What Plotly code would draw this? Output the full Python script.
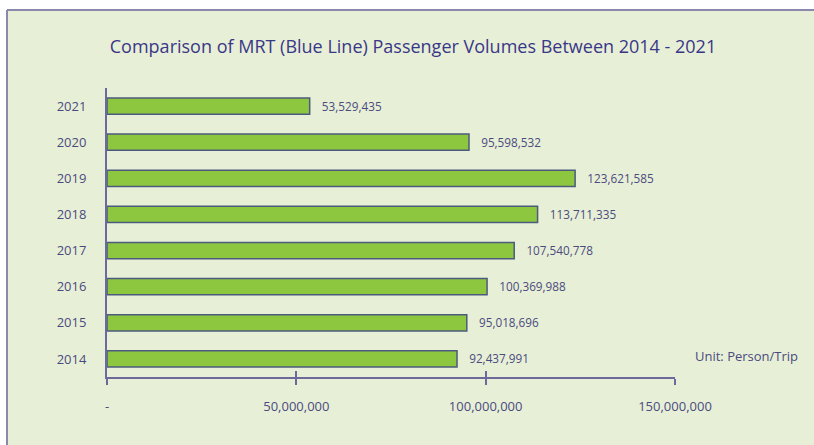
import plotly.graph_objects as go

years = ["2014", "2015", "2016", "2017", "2018", "2019", "2020", "2021"]
volumes = [92437991, 95018696, 100369988, 107540778, 113711335, 123621585, 95598532, 53529435]
x_tick_vals = [0, 50000000, 100000000, 150000000]
x_tick_text = ["-", "50,000,000", "100,000,000", "150,000,000"]

title_text = "Comparison of MRT (Blue Line) Passenger Volumes Between 2014 - 2021"
unit_text = "Unit: Person/Trip"

FONT = "Open Sans"
TXT = "#4b4a80"
AXIS = "#6c6a9c"
BG = "#e7f0d7"
FRAME = "#8b88ad"

fig = go.Figure()
fig.add_trace(go.Bar(
    y=years, x=volumes, orientation="h",
    marker=dict(color="#8dc63f", line=dict(color="#4d5a7e", width=1.5)),
    width=0.45,
    texttemplate="   %{x:,}",
    textposition="outside",
    textfont=dict(family=FONT, size=13, color=TXT),
    cliponaxis=False,
    hoverinfo="skip",
))
# overlay axis for tick marks that cross the axis line
fig.add_trace(go.Scatter(x=[0, 150000000], y=[None, None], xaxis="x2", yaxis="y",
                         mode="lines", showlegend=False, hoverinfo="skip"))

W, H = 814, 445
L, R, T, B = 107, 814 - 675, 88, 445 - 377
pw, ph = W - L - R, H - T - B

def px(xp):
    return (xp - L) / pw

def py(yp):
    return (H - B - yp) / ph

frame_shapes = [
    dict(type="rect", xref="paper", yref="paper", layer="below", x0=px(-20), x1=px(7),
         y0=py(500), y1=py(-20), line=dict(width=0), fillcolor="white"),
    dict(type="rect", xref="paper", yref="paper", layer="below", x0=px(-20), x1=px(900),
         y0=py(10), y1=py(-20), line=dict(width=0), fillcolor="white"),
    dict(type="line", xref="paper", yref="paper", layer="below", x0=px(7), x1=px(900),
         y0=py(10), y1=py(10), line=dict(color=FRAME, width=2)),
    dict(type="line", xref="paper", yref="paper", layer="below", x0=px(7), x1=px(7),
         y0=py(10), y1=py(500), line=dict(color=FRAME, width=2)),
]

fig.update_layout(
    width=W, height=H,
    margin=dict(l=L, r=R, t=T, b=B, pad=0),
    paper_bgcolor=BG,
    plot_bgcolor="rgba(0,0,0,0)",
    showlegend=False,
    font=dict(family=FONT, color=TXT),
    title=dict(text=title_text, xref="container", yref="container",
               x=413 / W, xanchor="center", y=1 - 47 / H, yanchor="middle",
               font=dict(family=FONT, size=18, color="#3a3788")),
    xaxis=dict(range=[0, 150000000], tickvals=x_tick_vals, ticktext=x_tick_text,
               showgrid=False, zeroline=False, showline=True, linecolor=AXIS, linewidth=2,
               ticks="outside", ticklen=6, tickwidth=1.5, tickcolor=AXIS,
               tickfont=dict(family=FONT, size=13, color=TXT), ticklabelstandoff=10),
    xaxis2=dict(range=[0, 150000000], overlaying="x", side="bottom", anchor="y",
                tickvals=x_tick_vals, showticklabels=False, showgrid=False, zeroline=False,
                ticks="inside", ticklen=6, tickwidth=1.5, tickcolor=AXIS, showline=False),
    yaxis=dict(range=[-0.5, 7.5], showgrid=False, zeroline=False, showline=True,
               linecolor=AXIS, linewidth=2, ticks="", ticklabelstandoff=16,
               tickfont=dict(family=FONT, size=13, color=TXT)),
    shapes=frame_shapes,
    annotations=[dict(text=unit_text, xref="paper", yref="paper", x=px(800), y=py(356),
                      xanchor="right", yanchor="middle", showarrow=False,
                      font=dict(family=FONT, size=13, color=TXT))],
)
fig.write_html(
    "out.html", config={"displayModeBar": False},
    post_script=(
        "document.documentElement.style.margin='0';"
        "document.documentElement.style.overflow='hidden';"
        "document.body.style.margin='0';document.body.style.padding='0';"
        "document.body.style.overflow='hidden';"
        "document.body.style.background='" + BG + "';"
    ),
)
